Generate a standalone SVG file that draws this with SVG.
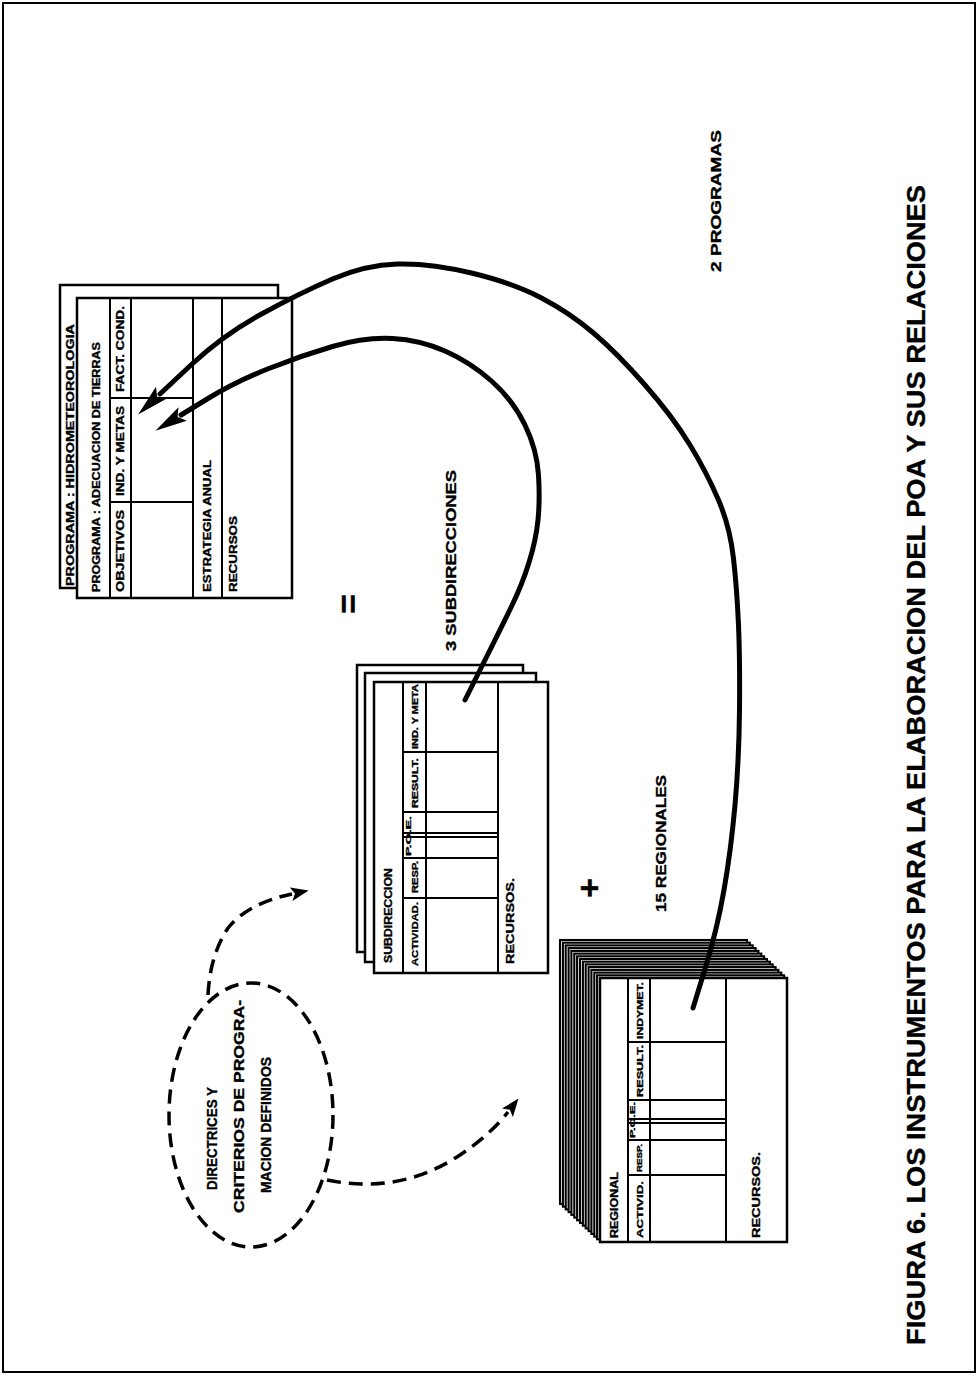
<svg xmlns="http://www.w3.org/2000/svg" width="979" height="1376" viewBox="0 0 979 1376">
<style>
.t{font-family:"Liberation Sans",Arial,sans-serif;font-weight:bold;fill:#000;stroke:#000;stroke-width:0.35}
.card{fill:#fff;stroke:#000;stroke-width:2.5}
.stk{fill:#fff;stroke:#000;stroke-width:2.1}
.ln{stroke:#000;stroke-width:2;fill:none}
.arc{fill:none;stroke:#000;stroke-width:5;stroke-linecap:round;stroke-linejoin:round}
.dash{fill:none;stroke:#000;stroke-width:3.5;stroke-dasharray:14 8}
</style>
<defs>
<marker id="big" markerUnits="userSpaceOnUse" markerWidth="32" markerHeight="20" viewBox="0 0 32 20" refX="2" refY="10" orient="auto">
<path d="M0,2 L32,10 L0,18 L6,10 z" fill="#000"/>
</marker>
<marker id="small" markerUnits="userSpaceOnUse" markerWidth="18" markerHeight="14" viewBox="0 0 18 14" refX="1" refY="7" orient="auto">
<path d="M0,0 L18,7 L0,14 L4,7 z" fill="#000"/>
</marker>
</defs>
<rect width="979" height="1376" fill="#fff"/>
<rect x="3" y="3" width="972" height="1369" fill="none" stroke="#000" stroke-width="2"/>

<g id="programas">
<rect class="card" x="60" y="285" width="218" height="303"/>
<text class="t" font-size="10" transform="translate(74,586) rotate(-90)" textLength="262" lengthAdjust="spacingAndGlyphs">PROGRAMA : HIDROMETEOROLOGIA</text>
<rect class="card" x="77" y="298" width="215" height="300"/>
<line class="ln" x1="110" y1="298" x2="110" y2="598"/>
<line class="ln" x1="131" y1="298" x2="131" y2="598"/>
<line class="ln" x1="193" y1="298" x2="193" y2="598"/>
<line class="ln" x1="222" y1="298" x2="222" y2="598"/>
<line class="ln" x1="110" y1="398" x2="193" y2="398"/>
<line class="ln" x1="110" y1="502" x2="193" y2="502"/>
<text class="t" font-size="10" transform="translate(100,592) rotate(-90)" textLength="250" lengthAdjust="spacingAndGlyphs">PROGRAMA : ADECUACION DE TIERRAS</text>
<text class="t" font-size="10" transform="translate(124,592) rotate(-90)" textLength="82" lengthAdjust="spacingAndGlyphs">OBJETIVOS</text>
<text class="t" font-size="10" transform="translate(124,496) rotate(-90)" textLength="90" lengthAdjust="spacingAndGlyphs">IND. Y METAS</text>
<text class="t" font-size="10" transform="translate(124,392) rotate(-90)" textLength="86" lengthAdjust="spacingAndGlyphs">FACT. COND.</text>
<text class="t" font-size="10" transform="translate(211,592) rotate(-90)" textLength="132" lengthAdjust="spacingAndGlyphs">ESTRATEGIA ANUAL</text>
<text class="t" font-size="10" transform="translate(237,592) rotate(-90)" textLength="76" lengthAdjust="spacingAndGlyphs">RECURSOS</text>
</g>

<g id="subdirecciones">
<rect class="card" x="357" y="665" width="166" height="287"/>
<rect class="card" x="365" y="673" width="171" height="289"/>
<rect class="card" x="374" y="682" width="174" height="291"/>
<line class="ln" x1="403" y1="682" x2="403" y2="973"/>
<line class="ln" x1="426" y1="682" x2="426" y2="973"/>
<line class="ln" x1="498" y1="682" x2="498" y2="973"/>
<line class="ln" x1="403" y1="752" x2="498" y2="752"/>
<line class="ln" x1="403" y1="812" x2="498" y2="812"/>
<line class="ln" x1="403" y1="833" x2="498" y2="833"/>
<line class="ln" x1="403" y1="837" x2="498" y2="837"/>
<line class="ln" x1="403" y1="858" x2="498" y2="858"/>
<line class="ln" x1="403" y1="898" x2="498" y2="898"/>
<text class="t" font-size="10" transform="translate(392,963) rotate(-90)" textLength="95" lengthAdjust="spacingAndGlyphs">SUBDIRECCION</text>
<text class="t" font-size="9.5" transform="translate(418,966) rotate(-90)" textLength="64" lengthAdjust="spacingAndGlyphs">ACTIVIDAD.</text>
<text class="t" font-size="9" transform="translate(418,893) rotate(-90)" textLength="32" lengthAdjust="spacingAndGlyphs">RESP.</text>
<text class="t" font-size="6.5" transform="translate(411,856) rotate(-90)" textLength="40" lengthAdjust="spacingAndGlyphs">P.O.E.</text>
<text class="t" font-size="9" transform="translate(418,808) rotate(-90)" textLength="50" lengthAdjust="spacingAndGlyphs">RESULT.</text>
<text class="t" font-size="9" transform="translate(418,749) rotate(-90)" textLength="65" lengthAdjust="spacingAndGlyphs">IND. Y META</text>
<text class="t" font-size="10" transform="translate(514,964) rotate(-90)" textLength="86" lengthAdjust="spacingAndGlyphs">RECURSOS.</text>
</g>

<g id="regionales">
<rect class="stk" x="560" y="940" width="187" height="264"/>
<rect class="stk" x="562.9" y="942.7" width="187" height="264"/>
<rect class="stk" x="565.7" y="945.4" width="187" height="264"/>
<rect class="stk" x="568.6" y="948.1" width="187" height="264"/>
<rect class="stk" x="571.4" y="950.9" width="187" height="264"/>
<rect class="stk" x="574.3" y="953.6" width="187" height="264"/>
<rect class="stk" x="577.1" y="956.3" width="187" height="264"/>
<rect class="stk" x="580" y="959" width="187" height="264"/>
<rect class="stk" x="582.9" y="961.7" width="187" height="264"/>
<rect class="stk" x="585.7" y="964.4" width="187" height="264"/>
<rect class="stk" x="588.6" y="967.1" width="187" height="264"/>
<rect class="stk" x="591.4" y="969.9" width="187" height="264"/>
<rect class="stk" x="594.3" y="972.6" width="187" height="264"/>
<rect class="stk" x="597.1" y="975.3" width="187" height="264"/>
<rect class="card" x="600" y="978" width="187" height="264" stroke-width="3"/>
<line class="ln" x1="628" y1="978" x2="628" y2="1242"/>
<line class="ln" x1="650" y1="978" x2="650" y2="1242"/>
<line class="ln" x1="726" y1="978" x2="726" y2="1242"/>
<line class="ln" x1="628" y1="1042" x2="726" y2="1042"/>
<line class="ln" x1="628" y1="1100" x2="726" y2="1100"/>
<line class="ln" x1="628" y1="1119" x2="726" y2="1119"/>
<line class="ln" x1="628" y1="1123" x2="726" y2="1123"/>
<line class="ln" x1="628" y1="1140" x2="726" y2="1140"/>
<line class="ln" x1="628" y1="1175" x2="726" y2="1175"/>
<text class="t" font-size="10" transform="translate(618,1238) rotate(-90)" textLength="66" lengthAdjust="spacingAndGlyphs">REGIONAL</text>
<text class="t" font-size="9.5" transform="translate(643,1238) rotate(-90)" textLength="57" lengthAdjust="spacingAndGlyphs">ACTIVID.</text>
<text class="t" font-size="7" transform="translate(642,1172) rotate(-90)" textLength="28" lengthAdjust="spacingAndGlyphs">RESP.</text>
<text class="t" font-size="6.5" transform="translate(635,1138) rotate(-90)" textLength="36" lengthAdjust="spacingAndGlyphs">P.O.E.</text>
<text class="t" font-size="9" transform="translate(643,1097) rotate(-90)" textLength="52" lengthAdjust="spacingAndGlyphs">RESULT.</text>
<text class="t" font-size="9" transform="translate(643,1039) rotate(-90)" textLength="57" lengthAdjust="spacingAndGlyphs">INDYMET.</text>
<text class="t" font-size="10" transform="translate(760,1238) rotate(-90)" textLength="86" lengthAdjust="spacingAndGlyphs">RECURSOS.</text>
</g>

<g id="directrices">
<ellipse class="dash" cx="251" cy="1115" rx="82" ry="132"/>
<text class="t" font-size="14" transform="translate(217,1190) rotate(-90)" textLength="103" lengthAdjust="spacingAndGlyphs">DIRECTRICES  Y</text>
<text class="t" font-size="14" transform="translate(244,1213) rotate(-90)" textLength="213" lengthAdjust="spacingAndGlyphs">CRITERIOS  DE  PROGRA-</text>
<text class="t" font-size="14" transform="translate(271,1193) rotate(-90)" textLength="136" lengthAdjust="spacingAndGlyphs">MACION  DEFINIDOS</text>
</g>

<g id="labels">
<text class="t" font-size="15" transform="translate(721,272) rotate(-90)" textLength="142" lengthAdjust="spacingAndGlyphs">2  PROGRAMAS</text>
<text class="t" font-size="15" transform="translate(456,651) rotate(-90)" textLength="181" lengthAdjust="spacingAndGlyphs">3  SUBDIRECCIONES</text>
<text class="t" font-size="15" transform="translate(666,912) rotate(-90)" textLength="137" lengthAdjust="spacingAndGlyphs">15  REGIONALES</text>
<text class="t" font-size="34" text-anchor="middle" transform="translate(360,604) rotate(-90)">=</text>
<text class="t" font-size="34" text-anchor="middle" transform="translate(601,888) rotate(-90)">+</text>
<text class="t" font-size="25" transform="translate(925,1345) rotate(-90)" textLength="1160" lengthAdjust="spacingAndGlyphs">FIGURA 6. LOS INSTRUMENTOS  PARA LA ELABORACION DEL POA  Y  SUS  RELACIONES</text>
</g>

<g id="connectors">
<path class="arc" marker-end="url(#big)" d="M693,1008 L705,969 Q717,930 724,890 Q731,850 735,805 Q739,760 739.5,710 Q740,660 738.5,625 Q737,590 733.5,558.5 Q730,527 718.5,500 Q707,473 690,445 Q673,417 645,385 Q617,353 593.5,333 Q570,313 541.5,298 Q513,283 471.5,273 Q430,263 397.5,264 Q365,265 332.5,279 Q300,293 261.5,314 Q223,335 191.5,364.5 L160,394"/>
<path class="arc" stroke-width="6" marker-end="url(#big)" d="M465,700 L472.5,685 Q480,670 490,650 Q500,630 511,607.5 Q522,585 529,562.5 Q536,540 538,520 Q540,500 538.5,475 Q537,450 525,425 Q513,400 491.5,381 Q470,362 445,351 Q420,340 392.5,338.5 Q365,337 332.5,346.5 Q300,356 267.5,369 Q235,382 208,398.5 L181,415"/>
<path class="dash" marker-end="url(#small)" d="M208,995 Q210,955 228,928 Q248,903 292,894"/>
<path class="dash" marker-end="url(#small)" d="M327,1180 Q400,1195 460,1155 Q490,1135 508,1112"/>
</g>
</svg>
